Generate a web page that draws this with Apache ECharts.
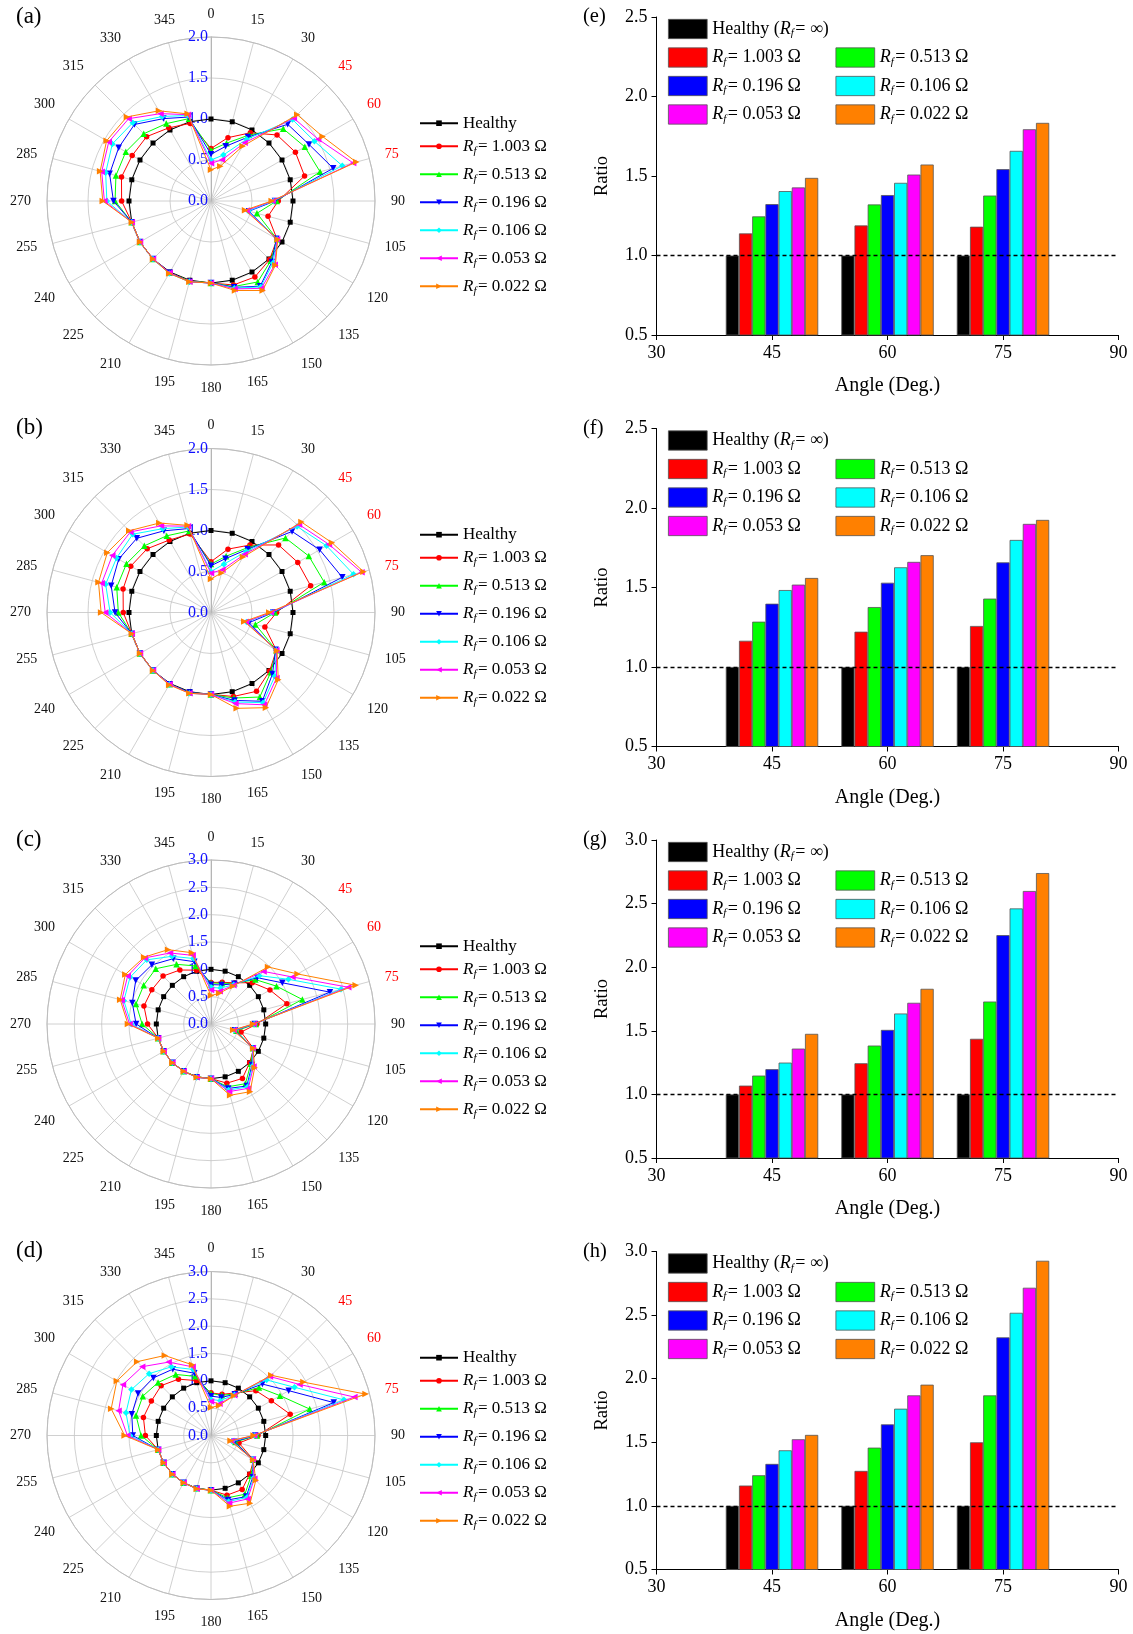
<!DOCTYPE html>
<html>
<head>
<meta charset="utf-8">
<script src="https://cdn.jsdelivr.net/npm/echarts@6/dist/echarts.min.js"></script>
<style>
  html, body { margin: 0; padding: 0; background: #fff; }
  #main { width: 1133px; height: 1634px; }
</style>
</head>
<body>
<div id="main"></div>
<script>
// angles of the polar plots (deg)
const angles = [0, 15, 30, 45, 60, 75, 90, 105, 120, 135, 150, 165, 180, 195, 210, 225, 240, 255, 270, 285, 300, 315, 330, 345];
// tick labels of the bar charts
const barTicks = ['30', '45', '60', '75', '90'];
const barAngles = ['45', '60', '75'];
const polarMax = [2.0, 2.0, 3.0, 3.0];
const barMax = [2.5, 2.5, 3.0, 3.0];
const faultLabels = ['1.003', '0.513', '0.196', '0.106', '0.053', '0.022'];

const healthy = [1.00, 1.00, 1.00, 1.00, 1.00, 1.00, 1.00, 1.00, 1.00, 1.00, 1.00, 1.00, 1.00, 1.00, 1.00, 1.00, 1.00, 1.00, 1.00, 1.00, 1.00, 1.00, 1.00, 1.00];

// panel (a) / (e)
const aR1003 = [0.64, 0.80, 0.96, 1.139, 1.189, 1.181, 0.82, 0.72, 0.93, 1.01, 1.07, 1.06, 1.00, 1.01, 1.01, 1.00, 1.00, 1.00, 1.09, 1.13, 1.11, 1.11, 1.03, 0.98];
const aR0513 = [0.62, 0.73, 0.93, 1.246, 1.321, 1.377, 0.80, 0.58, 0.93, 1.03, 1.14, 1.08, 1.00, 1.01, 1.01, 1.00, 1.00, 1.00, 1.17, 1.20, 1.20, 1.16, 1.09, 1.04];
const aR0196 = [0.57, 0.69, 0.90, 1.323, 1.380, 1.543, 0.78, 0.48, 0.92, 1.05, 1.20, 1.09, 1.00, 1.02, 1.01, 1.00, 1.00, 1.00, 1.19, 1.28, 1.30, 1.32, 1.16, 1.06];
const aR0106 = [0.50, 0.58, 0.87, 1.405, 1.457, 1.658, 0.76, 0.47, 0.93, 1.07, 1.21, 1.10, 1.00, 1.02, 1.02, 1.00, 1.00, 1.00, 1.27, 1.33, 1.39, 1.35, 1.19, 1.08];
const aR0053 = [0.46, 0.52, 0.82, 1.428, 1.509, 1.794, 0.75, 0.45, 0.93, 1.10, 1.23, 1.11, 1.00, 1.02, 1.01, 1.00, 1.00, 1.00, 1.30, 1.38, 1.44, 1.42, 1.23, 1.09];
const aR0022 = [0.38, 0.44, 0.77, 1.488, 1.572, 1.834, 0.74, 0.43, 0.94, 1.11, 1.26, 1.13, 1.00, 1.02, 1.02, 1.00, 1.00, 1.00, 1.32, 1.40, 1.47, 1.45, 1.27, 1.10];

// panel (b) / (f)
const bR1003 = [0.62, 0.80, 0.95, 1.165, 1.222, 1.258, 0.80, 0.68, 0.92, 1.01, 1.11, 1.06, 1.00, 1.01, 1.01, 1.00, 1.00, 1.00, 1.07, 1.11, 1.13, 1.10, 1.02, 0.99];
const bR0513 = [0.59, 0.71, 0.92, 1.285, 1.377, 1.430, 0.78, 0.56, 0.92, 1.03, 1.19, 1.08, 1.00, 1.01, 1.01, 1.00, 1.00, 1.00, 1.13, 1.19, 1.19, 1.15, 1.08, 1.03];
const bR0196 = [0.57, 0.68, 0.89, 1.398, 1.530, 1.658, 0.76, 0.48, 0.91, 1.06, 1.25, 1.11, 1.00, 1.01, 1.01, 1.00, 1.00, 1.00, 1.17, 1.26, 1.30, 1.28, 1.15, 1.06];
const bR0106 = [0.50, 0.61, 0.86, 1.484, 1.627, 1.799, 0.74, 0.45, 0.92, 1.10, 1.27, 1.13, 1.00, 1.02, 1.01, 1.00, 1.00, 1.00, 1.23, 1.33, 1.33, 1.35, 1.18, 1.08];
const bR0053 = [0.48, 0.54, 0.82, 1.518, 1.661, 1.900, 0.73, 0.44, 0.92, 1.13, 1.30, 1.15, 1.00, 1.02, 1.01, 1.00, 1.00, 1.00, 1.29, 1.38, 1.39, 1.39, 1.22, 1.09];
const bR0022 = [0.41, 0.50, 0.78, 1.560, 1.703, 1.925, 0.71, 0.42, 0.93, 1.16, 1.34, 1.21, 1.00, 1.02, 1.02, 1.00, 1.00, 1.00, 1.34, 1.42, 1.46, 1.41, 1.26, 1.10];

// panel (c) / (g)
const cR1003 = [0.76, 0.79, 0.87, 1.069, 1.245, 1.437, 0.84, 0.57, 0.90, 1.00, 1.15, 1.12, 1.00, 1.00, 1.00, 1.00, 1.00, 1.00, 1.16, 1.27, 1.25, 1.24, 1.14, 1.02];
const cR0513 = [0.75, 0.77, 0.86, 1.148, 1.384, 1.730, 0.82, 0.48, 0.89, 1.03, 1.26, 1.19, 1.00, 1.00, 1.00, 1.00, 1.00, 1.00, 1.26, 1.42, 1.42, 1.43, 1.26, 1.10];
const cR0196 = [0.72, 0.74, 0.85, 1.198, 1.507, 2.252, 0.80, 0.45, 0.89, 1.06, 1.31, 1.22, 1.00, 1.01, 1.00, 1.00, 1.00, 1.00, 1.37, 1.49, 1.59, 1.53, 1.38, 1.18];
const cR0106 = [0.67, 0.68, 0.83, 1.250, 1.636, 2.462, 0.79, 0.44, 0.88, 1.08, 1.33, 1.25, 1.00, 1.01, 1.00, 1.00, 1.00, 1.00, 1.46, 1.65, 1.71, 1.66, 1.43, 1.24];
const cR0053 = [0.62, 0.62, 0.82, 1.360, 1.720, 2.599, 0.78, 0.43, 0.88, 1.10, 1.36, 1.28, 1.00, 1.01, 1.00, 1.00, 1.00, 1.00, 1.49, 1.69, 1.76, 1.71, 1.50, 1.30];
const cR0022 = [0.52, 0.58, 0.80, 1.476, 1.830, 2.740, 0.77, 0.42, 0.89, 1.13, 1.43, 1.35, 1.00, 1.01, 1.00, 1.00, 1.00, 1.00, 1.52, 1.72, 1.81, 1.73, 1.57, 1.35];

// panel (d) / (h)
const dR1003 = [0.78, 0.78, 0.90, 1.160, 1.275, 1.500, 0.86, 0.53, 0.90, 1.00, 1.14, 1.13, 1.00, 1.00, 1.00, 1.00, 1.00, 1.00, 1.20, 1.28, 1.26, 1.29, 1.19, 1.04];
const dR0513 = [0.77, 0.76, 0.88, 1.241, 1.458, 1.869, 0.84, 0.46, 0.89, 1.04, 1.24, 1.18, 1.00, 1.00, 1.00, 1.00, 1.00, 1.00, 1.28, 1.42, 1.44, 1.37, 1.29, 1.12];
const dR0196 = [0.72, 0.72, 0.87, 1.330, 1.641, 2.325, 0.81, 0.44, 0.89, 1.08, 1.29, 1.22, 1.00, 1.01, 1.00, 1.00, 1.00, 1.00, 1.43, 1.50, 1.54, 1.49, 1.40, 1.18];
const dR0106 = [0.66, 0.66, 0.86, 1.437, 1.764, 2.518, 0.80, 0.40, 0.88, 1.10, 1.31, 1.25, 1.00, 1.01, 1.00, 1.00, 1.00, 1.00, 1.48, 1.61, 1.68, 1.60, 1.45, 1.25];
const dR0053 = [0.62, 0.60, 0.85, 1.524, 1.869, 2.715, 0.79, 0.38, 0.88, 1.12, 1.34, 1.28, 1.00, 1.01, 1.00, 1.00, 1.00, 1.00, 1.53, 1.75, 1.86, 1.78, 1.55, 1.30];
const dR0022 = [0.51, 0.57, 0.84, 1.558, 1.953, 2.927, 0.78, 0.37, 0.89, 1.16, 1.43, 1.34, 1.00, 1.01, 1.00, 1.00, 1.00, 1.00, 1.58, 1.89, 1.99, 1.91, 1.69, 1.34];

const panels = [
  [healthy, aR1003, aR0513, aR0196, aR0106, aR0053, aR0022],
  [healthy, bR1003, bR0513, bR0196, bR0106, bR0053, bR0022],
  [healthy, cR1003, cR0513, cR0196, cR0106, cR0053, cR0022],
  [healthy, dR1003, dR0513, dR0196, dR0106, dR0053, dR0022]
];

const colors = ['#000000', '#ff0000', '#00ff00', '#0000ff', '#00ffff', '#ff00ff', '#ff8000'];
const symbols = ['rect', 'circle', 'triangle', 'triangle', 'diamond', 'triangle', 'triangle'];
const rotates = [0, 0, 0, 180, 0, 90, -90];
const symSizes = [5, 5.5, 6.5, 6.5, 6.5, 6.5, 6.5];

const serif = "'Liberation Serif', 'Times New Roman', serif";
const off = [0, 411.5, 823, 1234.5];
const polarTags = ['(a)', '(b)', '(c)', '(d)'];
const barTags = ['(e)', '(f)', '(g)', '(h)'];

function legendText(name) {
  const i = +name.slice(1);
  if (i === 0) return name[0] === 'p' ? 'Healthy' : 'Healthy ({i|R}{s|f}= ∞)';
  return '{i|R}{s|f}= ' + faultLabels[i - 1] + ' Ω';
}
function rich(size, lh) {
  return {
    i: { fontFamily: serif, fontSize: size, fontStyle: 'italic', color: '#000' },
    s: { fontFamily: serif, fontSize: Math.round(size * 0.62), fontStyle: 'italic', color: '#000',
         padding: [9, 1.5, 0, 0], lineHeight: lh }
  };
}

const chart = echarts.init(document.getElementById('main'));

const title = [];
const legend = [];
const polar = [];
const angleAxis = [];
const radiusAxis = [];
const grid = [];
const xAxis = [];
const yAxis = [];
const series = [];

panels.forEach((vals, k) => {
  const o = off[k];
  title.push({ text: polarTags[k], left: 16, top: 5 + o, padding: 0,
    textStyle: { fontFamily: serif, fontSize: 23, fontWeight: 'normal', color: '#000' } });
  title.push({ text: barTags[k], left: 583, top: 6.5 + o, padding: 0,
    textStyle: { fontFamily: serif, fontSize: 20.5, fontWeight: 'normal', color: '#000' } });

  // polar plot
  polar.push({ center: [211, 201 + o], radius: 164 });
  angleAxis.push({
    polarIndex: k, type: 'value', min: 0, max: 360, interval: 15, startAngle: 90, clockwise: true,
    axisLine: { lineStyle: { color: '#bdbdbd', width: 1 } },
    axisTick: { show: false },
    axisLabel: {
      margin: 16, fontFamily: serif, fontSize: 14, color: '#111',
      formatter: v => ([45, 60, 75].includes(v) ? '{r|' + v + '}' : String(v)),
      rich: { r: { fontFamily: serif, fontSize: 14, color: '#ff0000' } }
    },
    splitLine: { show: true, lineStyle: { color: '#c4c4c4', width: 0.8 } }
  });
  radiusAxis.push({
    polarIndex: k, type: 'value', min: 0, max: polarMax[k], interval: 0.5,
    axisLine: { lineStyle: { color: '#b5b5b5', width: 1 } },
    axisTick: { show: false },
    axisLabel: { color: '#1010ff', fontFamily: serif, fontSize: 16, margin: 3,
      showMinLabel: true, showMaxLabel: true, formatter: v => v.toFixed(1) },
    splitLine: { show: true, lineStyle: { color: '#c4c4c4', width: 0.8 } }
  });
  vals.forEach((arr, i) => {
    const data = angles.map((a, j) => [arr[j], a]);
    data.push({ value: [arr[0], 360], symbol: 'none' });
    series.push({
      type: 'line', name: 'p' + i, coordinateSystem: 'polar', polarIndex: k,
      data, symbol: symbols[i], symbolSize: symSizes[i], symbolRotate: rotates[i],
      itemStyle: { color: colors[i] }, lineStyle: { color: colors[i], width: 1 },
      z: 3 + i, silent: true
    });
  });
  legend.push({
    orient: 'vertical', left: 419, top: 114.7 + o, padding: 0,
    itemWidth: 38, itemHeight: 7, itemGap: 1, selectedMode: false,
    data: vals.map((_, i) => 'p' + i), formatter: legendText,
    textStyle: { fontFamily: serif, fontSize: 17, color: '#000', lineHeight: 16, rich: rich(17, 27) }
  });

  // bar chart
  grid.push({ left: 656.5, top: 17 + o, width: 462, height: 318 });
  xAxis.push({
    gridIndex: k, type: 'category', data: barTicks, boundaryGap: false,
    axisLine: { lineStyle: { color: '#000', width: 1 } },
    axisTick: { show: true, inside: false, length: 5, lineStyle: { color: '#000' } },
    axisLabel: { fontFamily: serif, fontSize: 18, color: '#000', margin: 9 },
    name: 'Angle (Deg.)', nameLocation: 'middle', nameGap: 41,
    nameTextStyle: { fontFamily: serif, fontSize: 20, color: '#000' }
  });
  yAxis.push({
    gridIndex: k, type: 'value', min: 0.5, max: barMax[k], interval: 0.5,
    axisLine: { show: true, lineStyle: { color: '#000', width: 1 } },
    axisTick: { show: true, inside: false, length: 5, lineStyle: { color: '#000' } },
    axisLabel: { fontFamily: serif, fontSize: 18, color: '#000', margin: 9, formatter: v => v.toFixed(1) },
    splitLine: { show: false },
    name: 'Ratio', nameLocation: 'middle', nameGap: 44.5,
    nameTextStyle: { fontFamily: serif, fontSize: 18.5, color: '#000' }
  });
  vals.forEach((arr, i) => {
    const s = {
      type: 'bar', name: 'b' + i, xAxisIndex: k, yAxisIndex: k,
      data: barAngles.map(a => [a, arr[angles.indexOf(+a)]]),
      barWidth: 13.2, barGap: '0%',
      itemStyle: { color: colors[i], borderColor: '#555', borderWidth: 0.8 },
      silent: true
    };
    if (i === 0) {
      s.markLine = {
        silent: true, symbol: 'none', label: { show: false }, z: 10,
        lineStyle: { type: [4, 3], color: '#000', width: 1.3 },
        data: [{ yAxis: 1 }]
      };
    }
    series.push(s);
  });
  const barLegend = {
    orient: 'vertical', padding: 0, icon: 'rect',
    itemWidth: 38.8, itemHeight: 19.3, itemGap: 5.5, selectedMode: false,
    formatter: legendText,
    itemStyle: { borderColor: '#555', borderWidth: 0.8 },
    textStyle: { fontFamily: serif, fontSize: 18, color: '#000', lineHeight: 17, rich: rich(18, 23) }
  };
  legend.push(Object.assign({}, barLegend, { left: 668, top: 17.5 + o, data: ['b0', 'b1', 'b3', 'b5'] }));
  legend.push(Object.assign({}, barLegend, { left: 835.5, top: 46 + o, data: ['b2', 'b4', 'b6'] }));
});

chart.setOption({
  animation: false,
  backgroundColor: '#fff',
  title, legend, polar, angleAxis, radiusAxis, grid, xAxis, yAxis, series
});
</script>
</body>
</html>
